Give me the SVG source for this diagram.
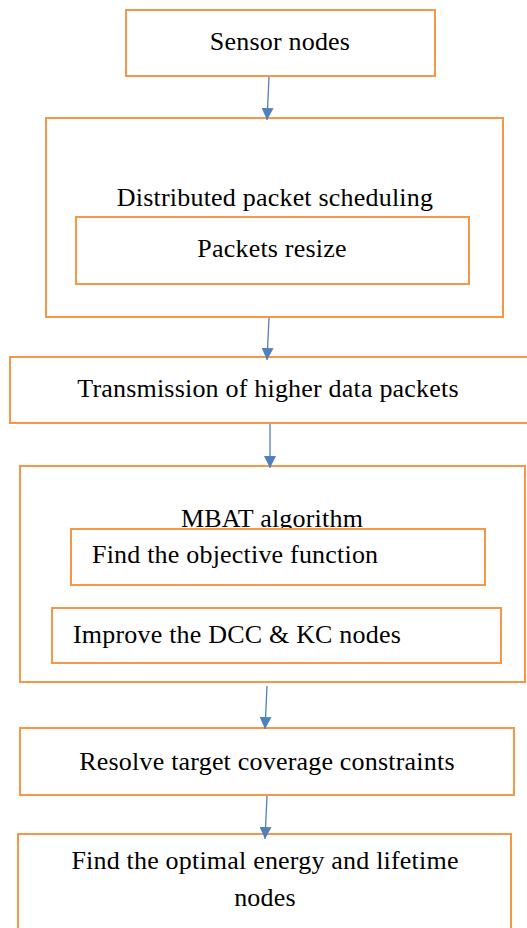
<svg xmlns="http://www.w3.org/2000/svg" width="527" height="928" viewBox="0 0 527 928">
<style>
.box{fill:#fff;stroke:#F79646;stroke-width:2}
.t{font-family:"Liberation Serif","Times New Roman",serif;font-size:26px;letter-spacing:0.2px;fill:#000}
.c{stroke:#4F81BD;stroke-width:1.3;fill:none}
</style>
<defs>
<marker id="ah" viewBox="0 0 10 10" refX="10" refY="5" markerWidth="12" markerHeight="12" markerUnits="userSpaceOnUse" orient="auto">
<path d="M0,0 L10,5 L0,10 Z" fill="#4F81BD"/>
</marker>
</defs>
<g id="n1"><rect class="box" x="126" y="10" width="309" height="66"/><text class="t" x="280" y="50" text-anchor="middle">Sensor nodes</text></g>
<g id="n2"><rect class="box" x="46" y="118" width="457" height="199"/><text class="t" x="275" y="206" text-anchor="middle">Distributed packet scheduling</text></g>
<g id="n2a"><rect class="box" x="76" y="217" width="393" height="67"/><text class="t" x="272" y="257" text-anchor="middle">Packets resize</text></g>
<g id="n3"><rect class="box" x="10" y="357" width="520" height="66"/><text class="t" x="268" y="397" text-anchor="middle">Transmission of higher data packets</text></g>
<g id="n4"><rect class="box" x="20" y="466" width="505" height="216"/><text class="t" x="272" y="527" text-anchor="middle">MBAT algorithm</text></g>
<g id="n4a"><rect class="box" x="71" y="529" width="414" height="56"/><text class="t" x="92" y="563">Find the objective function</text></g>
<g id="n4b"><rect class="box" x="52" y="608" width="449" height="55"/><text class="t" x="73" y="643">Improve the DCC &amp; KC nodes</text></g>
<g id="n5"><rect class="box" x="20" y="728" width="494" height="67"/><text class="t" x="267" y="770" text-anchor="middle">Resolve target coverage constraints</text></g>
<g id="n6"><rect class="box" x="18" y="834" width="493" height="110"/><text class="t" x="265" y="869" text-anchor="middle">Find the optimal energy and lifetime</text><text class="t" x="265" y="906" text-anchor="middle">nodes</text></g>
<g id="connectors">
<line class="c" x1="269" y1="77" x2="267" y2="120" marker-end="url(#ah)"/>
<line class="c" x1="269" y1="318" x2="267" y2="360" marker-end="url(#ah)"/>
<line class="c" x1="270" y1="424" x2="270" y2="468" marker-end="url(#ah)"/>
<line class="c" x1="267" y1="686" x2="265" y2="729" marker-end="url(#ah)"/>
<line class="c" x1="267" y1="796" x2="265" y2="839" marker-end="url(#ah)"/>
</g>
</svg>
